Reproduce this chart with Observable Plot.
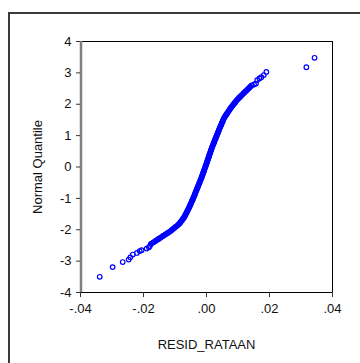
<!DOCTYPE html>
<html><head><meta charset="utf-8">
<script src="https://cdn.jsdelivr.net/npm/d3@7"></script>
<script src="https://cdn.jsdelivr.net/npm/@observablehq/plot@0.6"></script>
<style>
html,body{margin:0;padding:0;background:#fff;overflow:hidden;}
#wrap{position:relative;width:360px;height:363px;}
#outer{position:absolute;left:8px;top:12px;width:400px;height:400px;border-left:2px solid #3a3a3a;border-top:2px solid #3a3a3a;pointer-events:none;z-index:2;}
#chart{position:absolute;left:0;top:0;}
</style></head><body><div id="wrap"><div id="chart"></div><div id="outer"></div></div>
<script>
// Normal quantiles (y) and sorted residuals (x)
const quantiles = [
  -3.50, -3.19, -3.03, -2.95, -2.88, -2.79, -2.74, -2.68, -2.65, -2.60, -2.56, -2.52,
  -2.45, -2.40, -2.35, -2.30, -2.25, -2.20, -2.15, -2.10, -2.05, -2.00,
  -1.95, -1.90, -1.85, -1.80, -1.75, -1.70, -1.65, -1.60, -1.55, -1.50,
  -1.45, -1.40, -1.35, -1.30, -1.25, -1.20, -1.15, -1.10, -1.05, -1.00,
  -0.95, -0.90, -0.85, -0.80, -0.75, -0.70, -0.65, -0.60, -0.55, -0.50,
  -0.45, -0.40, -0.35, -0.30, -0.25, -0.20, -0.15, -0.10, -0.05, 0.00,
  0.05, 0.10, 0.15, 0.20, 0.25, 0.30, 0.35, 0.40, 0.45, 0.50,
  0.55, 0.60, 0.65, 0.70, 0.75, 0.80, 0.85, 0.90, 0.95, 1.00,
  1.05, 1.10, 1.15, 1.20, 1.25, 1.30, 1.35, 1.40, 1.45, 1.50,
  1.55, 1.60, 1.65, 1.70, 1.75, 1.80, 1.85, 1.90, 1.95, 2.00,
  2.05, 2.10, 2.15, 2.20, 2.25, 2.30, 2.35, 2.40, 2.45, 2.50, 2.55,
  2.60, 2.63, 2.66, 2.77, 2.82, 2.86, 2.93, 3.03, 3.18, 3.48
];
const residuals = [
  -0.0339, -0.0298, -0.0266, -0.0247, -0.0242, -0.0234, -0.0221, -0.0212, -0.0206, -0.0190, -0.0183, -0.0180,
  -0.01760, -0.01684, -0.01608, -0.01532, -0.01456, -0.01380, -0.01305, -0.01229, -0.01153, -0.01090,
  -0.01030, -0.00970, -0.00909, -0.00858, -0.00820, -0.00782, -0.00744, -0.00709, -0.00683, -0.00657,
  -0.00632, -0.00606, -0.00581, -0.00555, -0.00533, -0.00511, -0.00489, -0.00467, -0.00445, -0.00423,
  -0.00402, -0.00382, -0.00362, -0.00343, -0.00323, -0.00303, -0.00283, -0.00263, -0.00243, -0.00223,
  -0.00203, -0.00183, -0.00163, -0.00145, -0.00127, -0.00109, -0.00091, -0.00074, -0.00056, -0.00038,
  -0.00021, -0.00004, 0.00013, 0.00030, 0.00047, 0.00064, 0.00081, 0.00098, 0.00115, 0.00132,
  0.00149, 0.00166, 0.00185, 0.00205, 0.00225, 0.00244, 0.00264, 0.00284, 0.00304, 0.00324,
  0.00344, 0.00364, 0.00384, 0.00404, 0.00424, 0.00445, 0.00467, 0.00488, 0.00510, 0.00531,
  0.00552, 0.00581, 0.00614, 0.00648, 0.00681, 0.00714, 0.00747, 0.00782, 0.00822, 0.00861,
  0.00901, 0.00940, 0.00980, 0.01028, 0.01078, 0.01128, 0.01178, 0.01229, 0.01280, 0.01331, 0.01382,
  0.0143, 0.0151, 0.0157, 0.0161, 0.0168, 0.0174, 0.0182, 0.0190, 0.0317, 0.0343
];
const xTicks = [-0.04, -0.02, 0.00, 0.02, 0.04];
const yTicks = [-4, -3, -2, -1, 0, 1, 2, 3, 4];
const xTitle = "RESID_RATAAN";
const yTitle = "Normal Quantile";

const points = quantiles.map((q, i) => ({q, r: residuals[i]}));
const dense = points.filter(d => d.q >= -2.46 && d.q <= 2.56);

const fmt = d => d === 0 ? ".00" : (d < 0 ? "-" : "") + Math.abs(d).toFixed(2).slice(1);

const chart = Plot.plot({
  width: 360, height: 363,
  marginLeft: 80, marginRight: 28, marginTop: 41, marginBottom: 71,
  style: {background: "transparent", fontFamily: "'Liberation Sans', Arial, sans-serif", fontSize: "13px", color: "#111"},
  x: {domain: [xTicks[0], xTicks[xTicks.length - 1]]},
  y: {domain: [yTicks[0], yTicks[yTicks.length - 1]]},
  marks: [
    Plot.frame({stroke: "#000", strokeWidth: 1}),
    Plot.ruleX([xTicks[0]], {stroke: "#7f7f7f", strokeWidth: 2.5, dx: 0.5}),
    Plot.axisX(xTicks, {tickSize: 5, tickPadding: 6, tickFormat: fmt, label: xTitle, labelAnchor: "center", labelOffset: 56, labelArrow: "none", stroke: "#333"}),
    Plot.axisY(yTicks, {tickSize: 4, tickPadding: 5, tickFormat: d => String(d), label: yTitle, labelAnchor: "center", labelOffset: 48, labelArrow: "none", stroke: "#333"}),
    Plot.line(dense, {x: "r", y: "q", stroke: "#0000ff", strokeWidth: 5.5}),
    Plot.dot(points, {x: "r", y: "q", r: 2.3, stroke: "#0000ff", strokeWidth: 1.2, fill: "none"})
  ]
});
document.getElementById("chart").appendChild(chart);
</script>
</body></html>
